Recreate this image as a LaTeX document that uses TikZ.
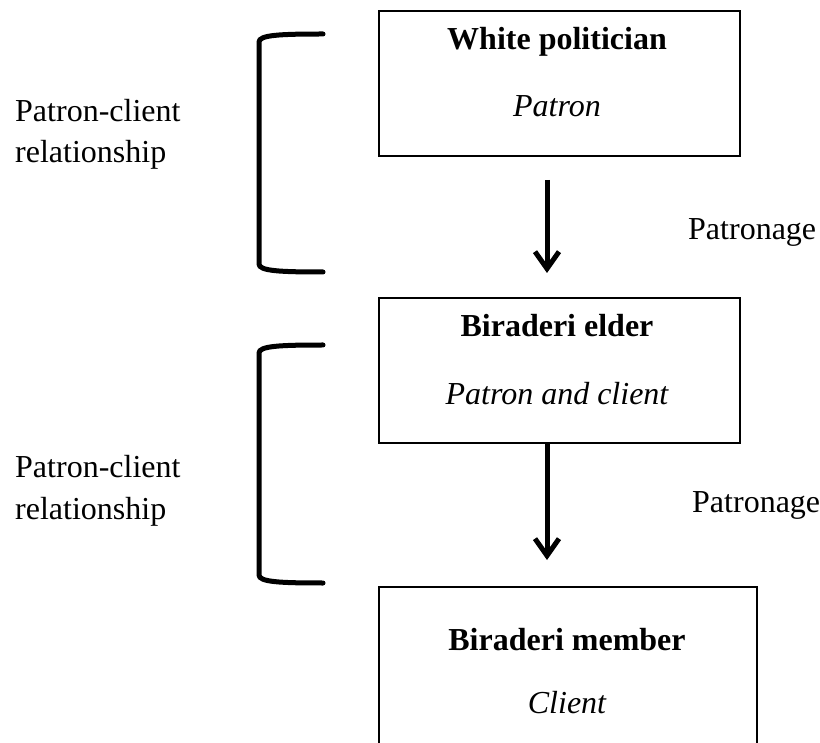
\documentclass[tikz,border=0pt]{standalone}
\usepackage{fontspec}
\setmainfont{Liberation Serif}
\usetikzlibrary{arrows.meta}
\begin{document}
\begin{tikzpicture}[x=1pt,y=-1pt,
  box/.style={draw=black,line width=2pt,fill=none,inner sep=0pt,anchor=north west},
  txt/.style={inner sep=0pt,font=\fontsize{32}{38}\selectfont,anchor=base},
  ltxt/.style={inner sep=0pt,font=\fontsize{32}{38}\selectfont,anchor=base west},
  brack/.style={line width=5pt,line cap=round},
  flow/.style={line width=5pt,-{Straight Barb[length=17pt,width=24pt,line width=5pt]}}]
\useasboundingbox (0,0) rectangle (820,743);
% boxes
\node[box,minimum width=361pt,minimum height=145pt] (b1) at (378,10) {};
\node[box,minimum width=361pt,minimum height=145pt] (b2) at (378,297) {};
\node[box,minimum width=378pt,minimum height=200pt] (b3) at (378,586) {};
% box texts
\node[txt] (t1a) at (557,50) {\bfseries White politician};
\node[txt] (t1b) at (557,117) {\itshape Patron};
\node[txt] (t2a) at (557,337) {\bfseries Biraderi elder};
\node[txt] (t2b) at (557,405) {\itshape Patron and client};
\node[txt] (t3a) at (567,650) {\bfseries Biraderi member};
\node[txt] (t3b) at (567,713) {\itshape Client};
% arrows
\coordinate (ax) at (547,0);
\draw[flow,shorten <=23pt,shorten >=24pt] (b1.south -| ax) -- (b2.north -| ax);
\draw[flow,shorten >=26pt] (b2.south -| ax) -- (b3.north -| ax);
% side labels
\node[ltxt] (p1) at (688,240) {Patronage};
\node[ltxt] (p2) at (692,512) {Patronage};
\node[ltxt] (l1a) at (15,122) {Patron-client};
\node[ltxt] (l1b) at (15,163) {relationship};
\node[ltxt] (l2a) at (15,478) {Patron-client};
\node[ltxt] (l2b) at (15,519) {relationship};
% brackets
\draw[brack] (323,34) .. controls (280,34) and (259,35) .. (259,42) -- (259,264) .. controls (259,271) and (280,272) .. (323,272);
\draw[brack] (323,345) .. controls (280,345) and (259,346) .. (259,353) -- (259,575) .. controls (259,582) and (280,583) .. (323,583);
\end{tikzpicture}
\end{document}
